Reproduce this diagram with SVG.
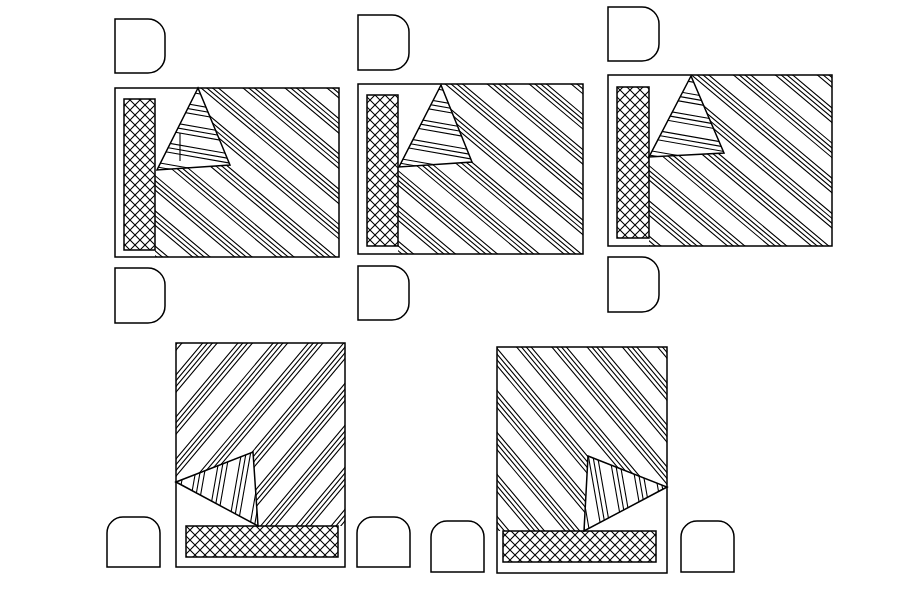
<svg xmlns="http://www.w3.org/2000/svg" width="897" height="590" viewBox="0 0 897 590">
<style>
.o{stroke:#000;stroke-width:1.5}
.n{fill:none}
.h{stroke:#000;stroke-width:1.1;fill:none}
.bg{fill:#fff}
</style>
<defs>
<path id="s40" class="h" d="M0 0l400 335.6M0 4.83l400 335.6M0 9.66l400 335.6M0 14.49l400 335.6M0 35.2l400 335.6M0 40.03l400 335.6M0 44.86l400 335.6M0 49.69l400 335.6M0 70.4l400 335.6M0 75.23l400 335.6M0 80.06l400 335.6M0 84.89l400 335.6M0 105.6l400 335.6M0 110.43l400 335.6M0 115.26l400 335.6M0 120.09l400 335.6M0 140.8l400 335.6M0 145.63l400 335.6M0 150.46l400 335.6M0 155.29l400 335.6M0 176l400 335.6M0 180.83l400 335.6M0 185.66l400 335.6M0 190.49l400 335.6M0 211.2l400 335.6M0 216.03l400 335.6M0 220.86l400 335.6M0 225.69l400 335.6M0 246.4l400 335.6M0 251.23l400 335.6M0 256.06l400 335.6M0 260.89l400 335.6M0 281.6l400 335.6M0 286.43l400 335.6M0 291.26l400 335.6M0 296.09l400 335.6M0 316.8l400 335.6M0 321.63l400 335.6M0 326.46l400 335.6M0 331.29l400 335.6M0 352l400 335.6M0 356.83l400 335.6M0 361.66l400 335.6M0 366.49l400 335.6"/>
<path id="sm50" class="h" d="M0 0l400 -476.7M0 5.76l400 -476.7M0 11.52l400 -476.7M0 17.28l400 -476.7M0 42l400 -476.7M0 47.76l400 -476.7M0 53.52l400 -476.7M0 59.28l400 -476.7M0 84l400 -476.7M0 89.76l400 -476.7M0 95.52l400 -476.7M0 101.28l400 -476.7M0 126l400 -476.7M0 131.76l400 -476.7M0 137.52l400 -476.7M0 143.28l400 -476.7M0 168l400 -476.7M0 173.76l400 -476.7M0 179.52l400 -476.7M0 185.28l400 -476.7M0 210l400 -476.7M0 215.76l400 -476.7M0 221.52l400 -476.7M0 227.28l400 -476.7M0 252l400 -476.7M0 257.76l400 -476.7M0 263.52l400 -476.7M0 269.28l400 -476.7M0 294l400 -476.7M0 299.76l400 -476.7M0 305.52l400 -476.7M0 311.28l400 -476.7M0 336l400 -476.7M0 341.76l400 -476.7M0 347.52l400 -476.7M0 353.28l400 -476.7M0 378l400 -476.7M0 383.76l400 -476.7M0 389.52l400 -476.7M0 395.28l400 -476.7M0 420l400 -476.7M0 425.76l400 -476.7M0 431.52l400 -476.7M0 437.28l400 -476.7"/>
<path id="s50" class="h" d="M0 0l400 476.7M0 5.76l400 476.7M0 11.52l400 476.7M0 17.28l400 476.7M0 42l400 476.7M0 47.76l400 476.7M0 53.52l400 476.7M0 59.28l400 476.7M0 84l400 476.7M0 89.76l400 476.7M0 95.52l400 476.7M0 101.28l400 476.7M0 126l400 476.7M0 131.76l400 476.7M0 137.52l400 476.7M0 143.28l400 476.7M0 168l400 476.7M0 173.76l400 476.7M0 179.52l400 476.7M0 185.28l400 476.7M0 210l400 476.7M0 215.76l400 476.7M0 221.52l400 476.7M0 227.28l400 476.7M0 252l400 476.7M0 257.76l400 476.7M0 263.52l400 476.7M0 269.28l400 476.7M0 294l400 476.7M0 299.76l400 476.7M0 305.52l400 476.7M0 311.28l400 476.7M0 336l400 476.7M0 341.76l400 476.7M0 347.52l400 476.7M0 353.28l400 476.7M0 378l400 476.7M0 383.76l400 476.7M0 389.52l400 476.7M0 395.28l400 476.7"/>
<path id="t10" class="h" d="M0 0l300 52.9M0 4.57l300 52.9M0 9.14l300 52.9M0 21.3l300 52.9M0 25.87l300 52.9M0 30.44l300 52.9M0 42.6l300 52.9M0 47.17l300 52.9M0 51.74l300 52.9M0 63.9l300 52.9M0 68.47l300 52.9M0 73.04l300 52.9M0 85.2l300 52.9M0 89.77l300 52.9M0 94.34l300 52.9M0 106.5l300 52.9M0 111.07l300 52.9M0 115.64l300 52.9M0 127.8l300 52.9M0 132.37l300 52.9M0 136.94l300 52.9"/>
<path id="tu" class="h" d="M0 0l52.9 -300M4.57 0l52.9 -300M9.14 0l52.9 -300M21.3 0l52.9 -300M25.87 0l52.9 -300M30.44 0l52.9 -300M42.6 0l52.9 -300M47.17 0l52.9 -300M51.74 0l52.9 -300M63.9 0l52.9 -300M68.47 0l52.9 -300M73.04 0l52.9 -300M85.2 0l52.9 -300M89.77 0l52.9 -300M94.34 0l52.9 -300M106.5 0l52.9 -300M111.07 0l52.9 -300M115.64 0l52.9 -300"/>
<path id="td" class="h" d="M0 0l52.9 300M4.57 0l52.9 300M9.14 0l52.9 300M21.3 0l52.9 300M25.87 0l52.9 300M30.44 0l52.9 300M42.6 0l52.9 300M47.17 0l52.9 300M51.74 0l52.9 300M63.9 0l52.9 300M68.47 0l52.9 300M73.04 0l52.9 300M85.2 0l52.9 300M89.77 0l52.9 300M94.34 0l52.9 300M106.5 0l52.9 300M111.07 0l52.9 300M115.64 0l52.9 300"/>
<pattern id="x" patternUnits="userSpaceOnUse" width="10" height="10">
<path class="h" d="M-1 -1L11 11M11 -1L-1 11"/>
</pattern>
<clipPath id="c1"><polygon points="198,88 339,88 339,257 155,257 155,170 157,170 230,165"/></clipPath>
<clipPath id="c1t"><polygon points="198,88 157,170 230,165"/></clipPath>
<clipPath id="c2"><polygon points="441,84 583,84 583,254 398,254 398,167 399,167 472,162"/></clipPath>
<clipPath id="c2t"><polygon points="441,85 399,167 472,162"/></clipPath>
<clipPath id="c3"><polygon points="691,75 832,75 832,246 649,246 649,157 724,153"/></clipPath>
<clipPath id="c3t"><polygon points="691,76 649,157 724,153"/></clipPath>
<clipPath id="c4"><polygon points="176,343 345,343 345,526 258,526 253,452 176,482"/></clipPath>
<clipPath id="c4t"><polygon points="176,482 253,452 258,526"/></clipPath>
<clipPath id="c5"><polygon points="497,347 667,347 667,487 588,456 584,531 497,531"/></clipPath>
<clipPath id="c5t"><polygon points="588,456 667,487 584,531"/></clipPath>
</defs>

<g id="bed1">
<rect class="o bg" x="115" y="88" width="224" height="169"/>
<g clip-path="url(#c1)"><use href="#s40" transform="translate(150,-75)"/></g>
<g clip-path="url(#c1t)"><use href="#t10" transform="translate(150,76)"/></g>
<rect class="o" x="124" y="99" width="31" height="151" fill="url(#x)"/>
<polygon class="o n" points="198,88 157,170 230,165"/>
<line class="h" x1="180" y1="133" x2="180" y2="161" stroke-width="1.4"/>
</g>
<g id="bed2">
<rect class="o bg" x="358" y="84" width="225" height="170"/>
<g clip-path="url(#c2)"><use href="#s40" transform="translate(393,-80)"/></g>
<g clip-path="url(#c2t)"><use href="#t10" transform="translate(392,72)"/></g>
<rect class="o" x="367" y="95" width="31" height="151" fill="url(#x)"/>
<polygon class="o n" points="441,85 399,167 472,162"/>
</g>
<g id="bed3">
<rect class="o bg" x="608" y="75" width="224" height="171"/>
<g clip-path="url(#c3)"><use href="#s40" transform="translate(644,-85)"/></g>
<g clip-path="url(#c3t)"><use href="#t10" transform="translate(642,64)"/></g>
<rect class="o" x="617" y="87" width="32" height="151" fill="url(#x)"/>
<polygon class="o n" points="691,76 649,157 724,153"/>
</g>
<g id="bed4">
<rect class="o bg" x="176" y="343" width="169" height="224"/>
<g clip-path="url(#c4)"><use href="#sm50" transform="translate(170,340)"/></g>
<g clip-path="url(#c4t)"><use href="#tu" transform="translate(164,530)"/></g>
<rect class="o" x="186" y="526" width="152" height="31" fill="url(#x)"/>
<polygon class="o n" points="176,482 253,452 258,526"/>
</g>
<g id="bed5">
<rect class="o bg" x="497" y="347" width="170" height="226"/>
<g clip-path="url(#c5)"><use href="#s50" transform="translate(490,130)"/></g>
<g clip-path="url(#c5t)"><use href="#td" transform="translate(566,450)"/></g>
<rect class="o" x="503" y="531" width="153" height="31" fill="url(#x)"/>
<polygon class="o n" points="588,456 667,487 584,531"/>
</g>

<g id="ns1a"><path class="o n" d="M115 19H148A17 17 0 0 1 165 36V56A17 17 0 0 1 148 73H115Z"/></g>
<g id="ns1b"><path class="o n" d="M115 268H148A17 17 0 0 1 165 285V306A17 17 0 0 1 148 323H115Z"/></g>
<g id="ns2a"><path class="o n" d="M358 15H392A17 17 0 0 1 409 32V53A17 17 0 0 1 392 70H358Z"/></g>
<g id="ns2b"><path class="o n" d="M358 266H392A17 17 0 0 1 409 283V303A17 17 0 0 1 392 320H358Z"/></g>
<g id="ns3a"><path class="o n" d="M608 7H642A17 17 0 0 1 659 24V44A17 17 0 0 1 642 61H608Z"/></g>
<g id="ns3b"><path class="o n" d="M608 257H642A17 17 0 0 1 659 274V295A17 17 0 0 1 642 312H608Z"/></g>
<g id="ns4a"><path class="o n" d="M107 567V533A16 16 0 0 1 123 517H144A16 16 0 0 1 160 533V567Z"/></g>
<g id="ns4b"><path class="o n" d="M357 567V533A16 16 0 0 1 373 517H394A16 16 0 0 1 410 533V567Z"/></g>
<g id="ns5a"><path class="o n" d="M431 572V537A16 16 0 0 1 447 521H468A16 16 0 0 1 484 537V572Z"/></g>
<g id="ns5b"><path class="o n" d="M681 572V537A16 16 0 0 1 697 521H718A16 16 0 0 1 734 537V572Z"/></g>
</svg>
